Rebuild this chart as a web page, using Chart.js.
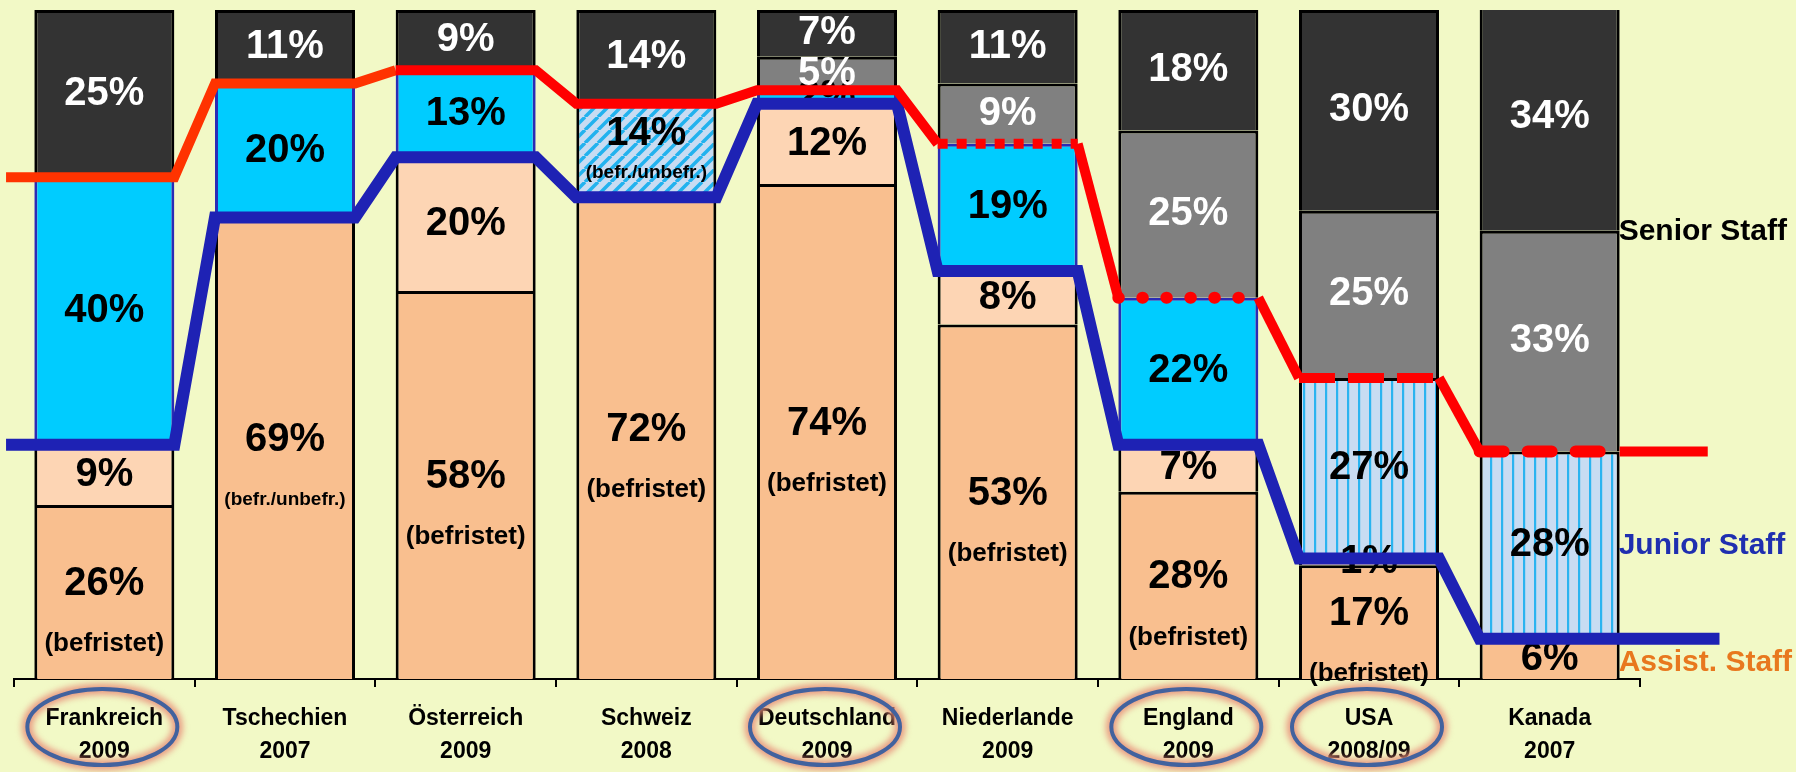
<!DOCTYPE html>
<html><head><meta charset="utf-8">
<script src="https://cdn.jsdelivr.net/npm/chart.js@4.4.0/dist/chart.umd.min.js"></script>
<style>
html,body{margin:0;padding:0;background:#F2F9C6;}
canvas{display:block;}
</style></head><body>
<canvas id="c" width="1796" height="772"></canvas>
<script>
// ---------- data ----------
const countries = ['Frankreich','Tschechien','Österreich','Schweiz','Deutschland','Niederlande','England','USA','Kanada'];
const years     = ['2009','2007','2009','2008','2009','2009','2009','2008/09','2007'];
const highlighted = ['Frankreich','Deutschland','England','USA'];

const assistStaff = [26,69,58,72,74,53,28,17,6];
const assistNote  = ['(befristet)','(befr./unbefr.)','(befristet)','(befristet)','(befristet)','(befristet)','(befristet)','(befristet)',null];
const juniorOther = [9,null,20,null,12,8,7,1,null];
const juniorStaff = [40,20,13,14,2,19,22,27,28];
const juniorKind  = ['solid','solid','solid','diag','solid','solid','solid','vert','vert'];
const juniorNote  = [null,null,null,'(befr./unbefr.)',null,null,null,null,null];
const seniorLower = [null,null,null,null,5,9,25,25,33];
const seniorTop   = [25,11,9,14,7,11,18,30,34];
const seniorLineStyle = ['solid','solid','solid','solid','solid','square','round','dash','roundDash'];
const sideLabels = ['Senior Staff','Junior Staff','Assist. Staff'];

// ---------- styling ----------
const FONT = "'Liberation Sans', Arial, sans-serif";
const BAR_PCT = 0.775;
const C_ASSIST = '#F9BF8F', C_OTHER = '#FDD5B4', C_CYAN = '#00CCFF', C_GRAY = '#808080', C_DARK = '#333333';
const C_RED = '#FF0000', C_RED2 = '#FF3300', C_BLUE = '#1E22B4';

function diagPattern(){
  const s=13, c=document.createElement('canvas'); c.width=c.height=s;
  const g=c.getContext('2d');
  g.fillStyle='#C8DCF2'; g.fillRect(0,0,s,s);
  g.strokeStyle='#22B2EE'; g.lineWidth=3.5; g.beginPath();
  for(let k=-1;k<=1;k++){ g.moveTo(k*s,s); g.lineTo(s+k*s,0); }
  g.stroke();
  return g.createPattern(c,'repeat');
}
function vertPattern(){
  const c=document.createElement('canvas'); c.width=11; c.height=4;
  const g=c.getContext('2d');
  g.fillStyle='#C8DCF2'; g.fillRect(0,0,11,4);
  g.fillStyle='#2AB4F0'; g.fillRect(5,0,2.2,4);
  return g.createPattern(c,'repeat');
}
const pats = {diag: diagPattern(), vert: vertPattern()};
const juniorBg = juniorKind.map(k => k==='solid' ? C_CYAN : pats[k]);
const juniorBorder = juniorKind.map(k => k==='solid' ? '#2B2BB5' : '#000');

// line levels built from stacks
const blueLevels = assistStaff.map((a,i)=>a+(juniorOther[i]||0));
const redLevels  = blueLevels.map((b,i)=>b+juniorStaff[i]);
function edgePoints(levels, startX, endX){
  const pts=[];
  levels.forEach((v,i)=>{
    pts.push({x: i===0 ? startX : i+(1-BAR_PCT)/2, y:v});
    pts.push({x: i+(1+BAR_PCT)/2, y:v});
  });
  pts.push({x:endX, y:levels[levels.length-1]});
  return pts;
}
const dashMap = {
  solid:{dash:[],cap:'butt',w:10},
  square:{dash:[10,9],cap:'butt',w:10},
  round:{dash:[0.5,23.5],cap:'round',w:12},
  dash:{dash:[36,13],cap:'butt',w:10},
  roundDash:{dash:[24,24],cap:'round',w:12}
};
function redStyle(ctx){
  const i=ctx.p0DataIndex;
  if(i%2===0 && i/2<seniorLineStyle.length) return dashMap[seniorLineStyle[i/2]];
  return dashMap.solid;
}

const barCommon = {stack:'s', order:1, grouped:false, borderWidth:3, borderSkipped:'start', borderColor:'#000',
  barPercentage:BAR_PCT, categoryPercentage:1, clip:{left:false,top:0,right:false,bottom:false}};

const datasets = [
  {...barCommon, label:'assist', data:assistStaff, backgroundColor:C_ASSIST},
  {...barCommon, label:'other', data:juniorOther, backgroundColor:C_OTHER},
  {...barCommon, label:'junior', data:juniorStaff, backgroundColor:juniorBg, borderColor:juniorBorder},
  {...barCommon, label:'seniorLower', data:seniorLower, backgroundColor:C_GRAY},
  {...barCommon, label:'seniorTop', data:seniorTop, backgroundColor:C_DARK},
  {type:'line', label:'red', xAxisID:'lx', yAxisID:'ly', order:0, clip:false, data:edgePoints(redLevels,-0.044,9.375),
   borderColor:C_RED, borderWidth:10, pointRadius:0, tension:0, fill:false,
   segment:{
     borderDash: ctx=>redStyle(ctx).dash,
     borderCapStyle: ctx=>redStyle(ctx).cap,
     borderWidth: ctx=>redStyle(ctx).w,
     borderColor: ctx=>ctx.p0DataIndex<4 ? C_RED2 : C_RED
   }},
  {type:'line', label:'blue', xAxisID:'lx', yAxisID:'ly', order:0, clip:false, data:edgePoints(blueLevels,-0.044,9.44),
   borderColor:C_BLUE, borderWidth:12, pointRadius:0, tension:0, fill:false}
];

const whiteSets = ['seniorLower','seniorTop'];
const labelPlugin = {
  id:'segLabels',
  afterDatasetDraw(chart,args){
    if(args.index!==0) return;
    const ctx=chart.ctx; ctx.save();
    ctx.textAlign='center'; ctx.textBaseline='middle';
    for(let d=0; d<5; d++){
      const ds=chart.data.datasets[d], meta=chart.getDatasetMeta(d);
      meta.data.forEach((el,i)=>{
        const v=ds.data[i]; if(v==null) return;
        const cy=(el.y+el.base)/2, x=el.x;
        ctx.fillStyle = whiteSets.includes(ds.label) ? '#fff' : '#000';
        let note=null, my=cy, ny=cy;
        if(ds.label==='assist' && assistNote[i]){ note=assistNote[i]; my=cy-8; ny=cy+52; }
        if(ds.label==='junior' && juniorNote[i]){ note=juniorNote[i]; my=cy-17; ny=cy+22; }
        ctx.font='bold 40px '+FONT;
        ctx.fillText(v+'%', x, my);
        if(note){
          ctx.font='bold '+(note.length>12?19:26)+'px '+FONT;
          ctx.fillText(note, x, ny);
        }
      });
    }
    ctx.restore();
  },
  afterDraw(chart){
    const ctx=chart.ctx, xs=chart.scales.x, ys=chart.scales.y;
    const last=countries.length-1;
    const el=chart.getDatasetMeta(0).data[last];
    const xr=el.x+el.width/2;
    ctx.save();
    ctx.textAlign='left'; ctx.textBaseline='middle';
    ctx.font='bold 30px '+FONT;
    const sy=[assistStaff[last]+juniorStaff[last]+seniorLower[last], assistStaff[last]+juniorStaff[last]/2, assistStaff[last]/2];
    const cols=['#000','#1F2FB0','#E8781E'];
    sideLabels.forEach((t,k)=>{ ctx.fillStyle=cols[k]; ctx.fillText(t, xr-1, ys.getPixelForValue(sy[k])+(k===2?4:1)); });
    // ellipses with soft reddish glow
    highlighted.forEach(name=>{
      const i=countries.indexOf(name);
      const cx=xs.getPixelForValue(i)-2, cy=chart.chartArea.bottom+48;
      ctx.save();
      ctx.filter='blur(3px)';
      ctx.strokeStyle='rgba(232,140,120,0.85)'; ctx.lineWidth=11;
      ctx.beginPath(); ctx.ellipse(cx, cy, 75, 38, 0, 0, Math.PI*2); ctx.stroke();
      ctx.filter='none';
      ctx.strokeStyle='#42629E'; ctx.lineWidth=4;
      ctx.beginPath(); ctx.ellipse(cx, cy, 75, 38, 0, 0, Math.PI*2); ctx.stroke();
      ctx.restore();
    });
    ctx.restore();
  }
};

Chart.defaults.font.family = FONT;
new Chart(document.getElementById('c'), {
  type:'bar',
  data:{labels: countries.map((c,i)=>[c, years[i]]), datasets},
  options:{
    responsive:false, devicePixelRatio:1, animation:false,
    layout:{padding:{left:14,right:156,top:10,bottom:7}},
    plugins:{legend:{display:false}, tooltip:{enabled:false}},
    scales:{
      x:{stacked:true, offset:true,
         afterFit: s => { s.height = 86; },
         grid:{display:true, drawOnChartArea:false, drawTicks:true, tickLength:8, color:'#000', lineWidth:2, offset:true},
         border:{display:true, color:'#000', width:2},
         ticks:{color:'#000', font:{size:23, weight:'bold', lineHeight:1.4}, padding:16, autoSkip:false, maxRotation:0}},
      y:{stacked:true, display:false, min:0, max:100},
      lx:{type:'linear', axis:'x', position:'bottom', display:false, min:0, max:9, offset:false, grid:{offset:false}},
      ly:{type:'linear', axis:'y', position:'left', display:false, min:0, max:100, stacked:false}
    }
  },
  plugins:[labelPlugin]
});
</script>
</body></html>
